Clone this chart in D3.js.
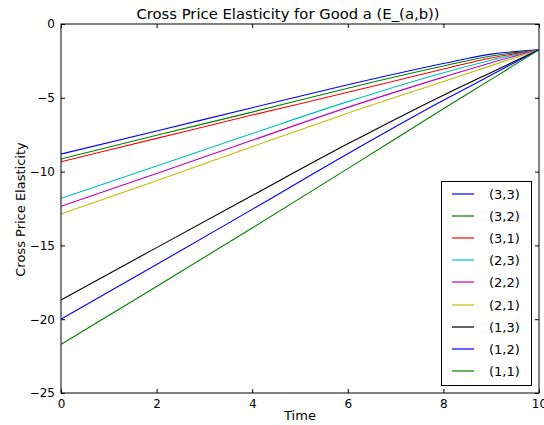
<!doctype html>
<title>Cross Price Elasticity</title>
<style>
body, html {
  margin: 0;
  background: #fff;
}
svg text {
  font-family: "DejaVu Sans", sans-serif;
  fill: #000;
}
</style>
<script src="https://cdn.jsdelivr.net/npm/d3@7"></script>
<div id="chart"></div>
<script>
var width = 544;
var height = 425;

// time points
var times = [0, 2, 4, 6, 8, 9, 10];
var labels = ["(3,3)", "(3,2)", "(3,1)", "(2,3)", "(2,2)", "(2,1)", "(1,3)", "(1,2)", "(1,1)"];
var colors = ["#0000ff", "#008000", "#ff0000", "#00bfbf", "#bf00bf", "#bfbf00", "#000000", "#0000ff", "#008000"];
var s33 = [-8.81, -7.25, -5.67, -4.12, -2.68, -2.04, -1.75];
var s32 = [-9.15, -7.54, -5.97, -4.35, -2.85, -2.17, -1.75];
var s31 = [-9.33, -7.75, -6.17, -4.63, -3.05, -2.30, -1.75];
var s23 = [-11.81, -9.62, -7.42, -5.26, -3.30, -2.45, -1.75];
var s22 = [-12.35, -10.13, -7.88, -5.65, -3.60, -2.62, -1.75];
var s21 = [-12.87, -10.62, -8.31, -6.04, -3.90, -2.82, -1.75];
var s13 = [-18.7, -15.15, -11.62, -8.12, -4.82, -3.28, -1.75];
var s12 = [-20.0, -16.30, -12.56, -8.79, -5.17, -3.46, -1.75];
var s11 = [-21.7, -17.78, -13.82, -9.80, -5.74, -3.75, -1.75];
var series = [s33, s32, s31, s23, s22, s21, s13, s12, s11];
var xTicks = [0, 2, 4, 6, 8, 10];
var yTicks = [0, -5, -10, -15, -20, -25];

var margin = {top: 24, left: 61, right: 5, bottom: 32};
var plotW = width - margin.left - margin.right;
var plotH = height - margin.top - margin.bottom;

var svg = d3.select('#chart').append('svg')
  .attr('width', width)
  .attr('height', height);

var x = d3.scaleLinear().domain([0, 10]).range([0, plotW]);
var y = d3.scaleLinear().domain([-25, 0]).range([plotH, 0]);

var g = svg.append('g')
  .attr('transform', 'translate(' + margin.left + ',' + margin.top + ')');

var fmt = function(d) { return String(d).replace('-', '\u2212'); };

// axes, ticks pointing inward like matplotlib
var axBottom = g.append('g').attr('transform', 'translate(0,' + plotH + ')')
  .call(d3.axisBottom(x).tickValues(xTicks).tickSizeInner(-4).tickSizeOuter(0).tickPadding(6).tickFormat(fmt));
var axTop = g.append('g')
  .call(d3.axisTop(x).tickValues(xTicks).tickSizeInner(-4).tickSizeOuter(0).tickFormat(''));
var axLeft = g.append('g')
  .call(d3.axisLeft(y).tickValues(yTicks).tickSizeInner(-4).tickSizeOuter(0).tickPadding(6).tickFormat(fmt));
var axRight = g.append('g').attr('transform', 'translate(' + plotW + ',0)')
  .call(d3.axisRight(y).tickValues(yTicks).tickSizeInner(-4).tickSizeOuter(0).tickFormat(''));

[axBottom, axTop, axLeft, axRight].forEach(function(a) {
  a.select('.domain').remove();
  a.selectAll('line').attr('stroke', '#000');
  a.selectAll('text').attr('font-size', 12).attr('fill', '#000');
});

// lines
var line = d3.line()
  .x(function(d, i) { return x(times[i]); })
  .y(function(d) { return y(d); })
  .curve(d3.curveMonotoneX);

g.selectAll('path.series')
  .data(series)
  .enter().append('path')
  .attr('class', 'series')
  .attr('d', line)
  .attr('fill', 'none')
  .attr('stroke', function(d, i) { return colors[i]; })
  .attr('stroke-width', 1.1);

// frame
g.append('rect')
  .attr('width', plotW).attr('height', plotH)
  .attr('fill', 'none').attr('stroke', '#000').attr('stroke-width', 1);

// legend
var lg = g.append('g').attr('transform', 'translate(' + (441 - margin.left) + ',' + (181 - margin.top) + ')');
lg.append('rect')
  .attr('x', 0.5).attr('y', 0.5)
  .attr('width', 90).attr('height', 204)
  .attr('fill', '#fff').attr('stroke', '#000');
labels.forEach(function(lab, i) {
  var ry = Math.round(12.5 + i * 22.2);
  lg.append('line')
    .attr('x1', 11).attr('x2', 33)
    .attr('y1', ry).attr('y2', ry)
    .attr('stroke', colors[i])
    .attr('stroke-width', 1.2);
  lg.append('text')
    .attr('x', 48).attr('y', ry).attr('dy', '0.35em')
    .attr('font-size', 13)
    .text(lab);
});

// titles
svg.append('text')
  .attr('x', 288).attr('y', 19)
  .attr('text-anchor', 'middle').attr('font-size', 14.8)
  .text('Cross Price Elasticity for Good a (E_(a,b))');
svg.append('text')
  .attr('x', margin.left + plotW / 2).attr('y', 420)
  .attr('text-anchor', 'middle').attr('font-size', 13)
  .text('Time');
svg.append('text')
  .attr('transform', 'translate(25,' + (margin.top + plotH / 2 + 1) + ') rotate(-90)')
  .attr('text-anchor', 'middle').attr('font-size', 13)
  .text('Cross Price Elasticity');
</script>
